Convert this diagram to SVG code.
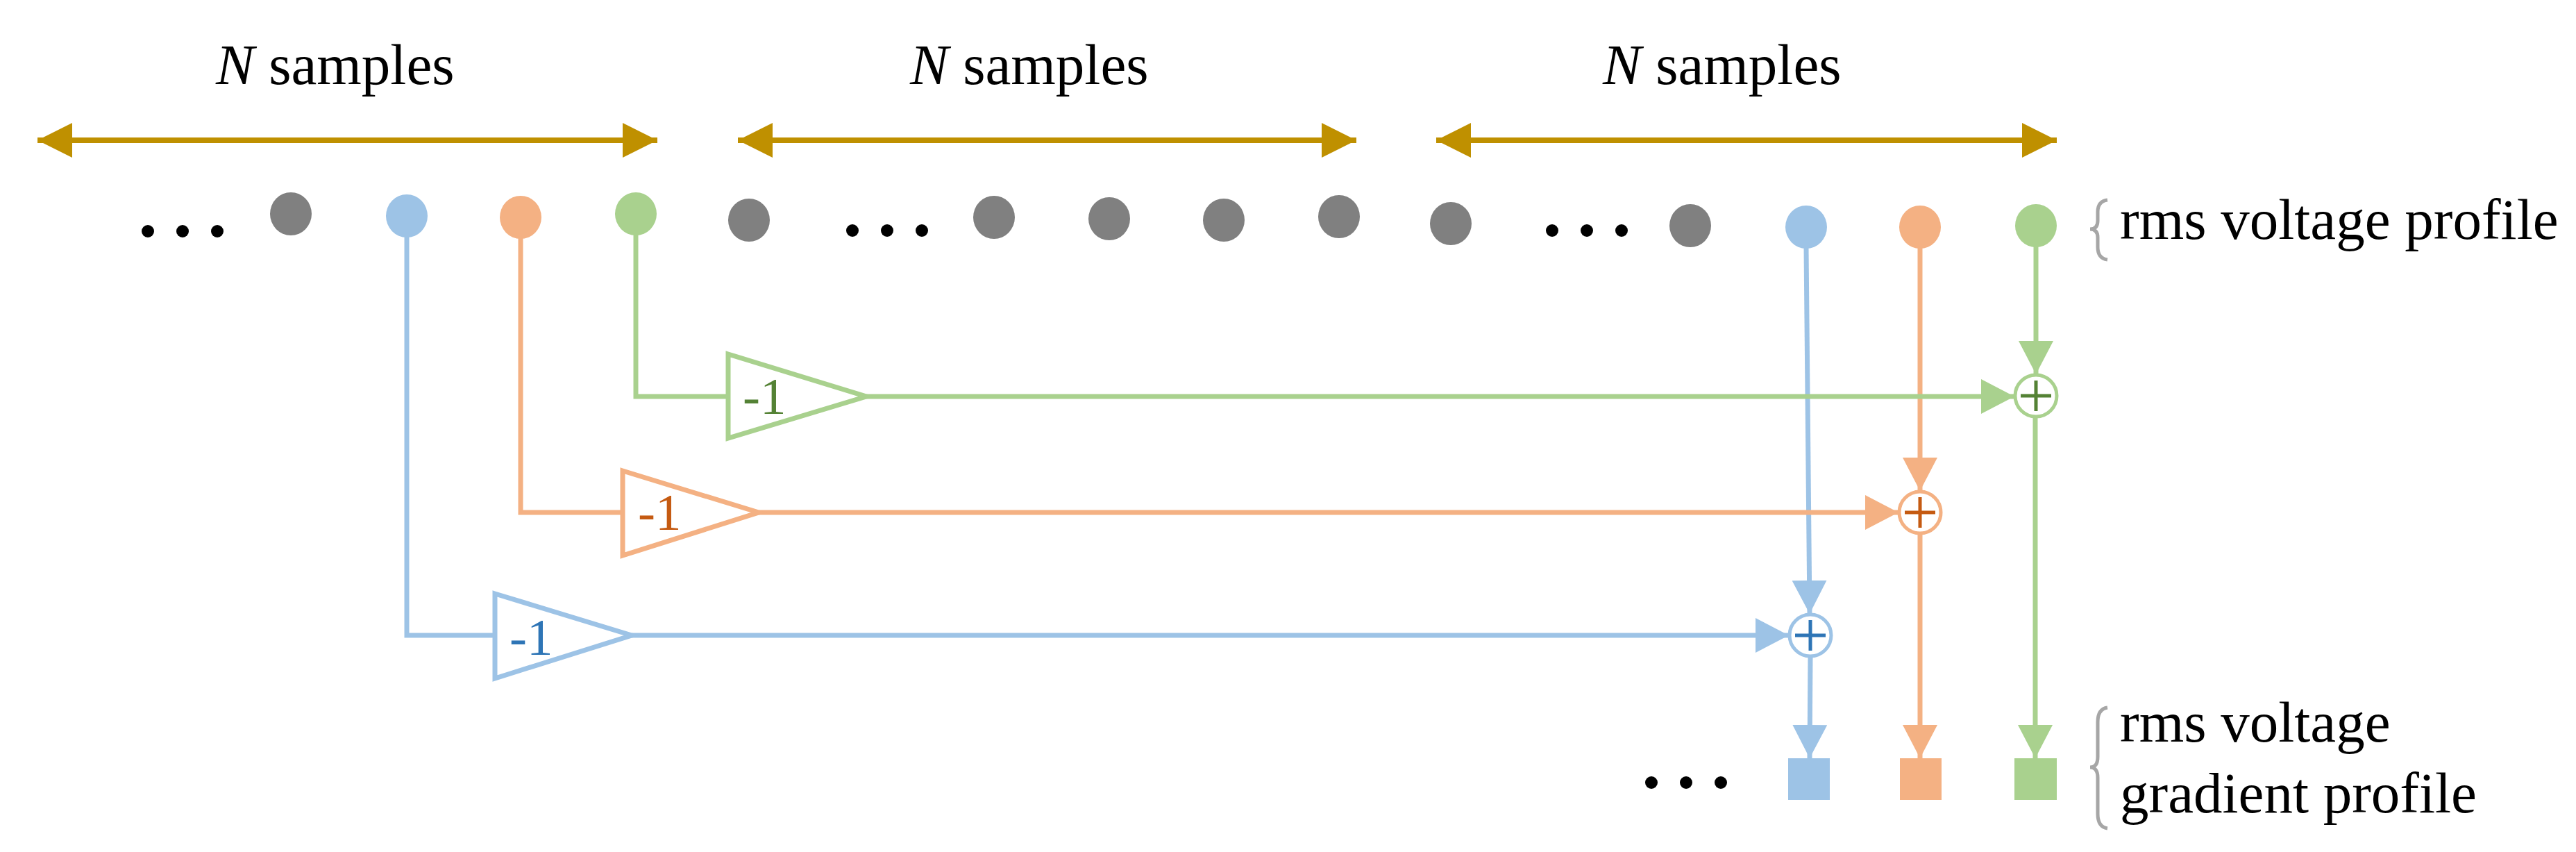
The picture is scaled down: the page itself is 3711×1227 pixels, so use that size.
<svg xmlns="http://www.w3.org/2000/svg" width="3711" height="1227" viewBox="0 0 3711 1227">
<style>
.t{font-family:"Liberation Serif","Times New Roman",serif;font-size:83px;fill:#000}
.g{font-family:"Liberation Serif","Times New Roman",serif;font-size:75px}
.gold{stroke:#BF9000;stroke-width:8;fill:none}
.bl{stroke:#9DC3E6;stroke-width:7;fill:none}
.or{stroke:#F4B183;stroke-width:7;fill:none}
.gr{stroke:#A9D18E;stroke-width:7;fill:none}
.br{stroke:#A6A6A6;stroke-width:5;fill:none}
</style>
<defs>
<marker id="ag" viewBox="0 0 50 50" refX="50" refY="25" markerWidth="50" markerHeight="50" markerUnits="userSpaceOnUse" orient="auto-start-reverse"><path d="M0,0L50,25L0,50z" fill="#BF9000"/></marker>
<marker id="ab" viewBox="0 0 48 50" refX="48" refY="25" markerWidth="48" markerHeight="50" markerUnits="userSpaceOnUse" orient="auto"><path d="M0,0L48,25L0,50z" fill="#9DC3E6"/></marker>
<marker id="ao" viewBox="0 0 48 50" refX="48" refY="25" markerWidth="48" markerHeight="50" markerUnits="userSpaceOnUse" orient="auto"><path d="M0,0L48,25L0,50z" fill="#F4B183"/></marker>
<marker id="agr" viewBox="0 0 48 50" refX="48" refY="25" markerWidth="48" markerHeight="50" markerUnits="userSpaceOnUse" orient="auto"><path d="M0,0L48,25L0,50z" fill="#A9D18E"/></marker>
</defs>
<rect width="3711" height="1227" fill="#fff"/>
<g id="labels">
<text class="t" x="311" y="121"><tspan font-style="italic">N</tspan> samples</text>
<text class="t" x="1311" y="121"><tspan font-style="italic">N</tspan> samples</text>
<text class="t" x="2309" y="121"><tspan font-style="italic">N</tspan> samples</text>
<text class="t" x="3054" y="344">rms voltage profile</text>
<text class="t" x="3054" y="1068">rms voltage</text>
<text class="t" x="3054" y="1170">gradient profile</text>
<path class="br" d="M3036,288 Q3022,290 3022,305 L3022,318 Q3022,330 3011,330 Q3022,330 3022,342 L3022,356 Q3022,372 3036,374"/>
<path class="br" d="M3036,1019 Q3022,1021 3022,1040 L3022,1090 Q3022,1105 3011,1105 Q3022,1105 3022,1120 L3022,1172 Q3022,1191 3036,1193"/>
</g>
<g id="spans">
<line class="gold" x1="54" y1="202" x2="947" y2="202" marker-start="url(#ag)" marker-end="url(#ag)"/>
<line class="gold" x1="1063" y1="202" x2="1954" y2="202" marker-start="url(#ag)" marker-end="url(#ag)"/>
<line class="gold" x1="2069" y1="202" x2="2963" y2="202" marker-start="url(#ag)" marker-end="url(#ag)"/>
</g>
<g id="samples">
<g fill="#000">
<circle cx="213" cy="333" r="9"/><circle cx="263" cy="333" r="9"/><circle cx="313" cy="333" r="9"/>
<circle cx="1228" cy="332" r="9"/><circle cx="1278" cy="332" r="9"/><circle cx="1328" cy="332" r="9"/>
<circle cx="2236" cy="332" r="9"/><circle cx="2286" cy="332" r="9"/><circle cx="2336" cy="332" r="9"/>
<circle cx="2379" cy="1127" r="9"/><circle cx="2429" cy="1127" r="9"/><circle cx="2479" cy="1127" r="9"/>
</g>
<g fill="#808080">
<ellipse cx="419" cy="308" rx="30" ry="31"/>
<ellipse cx="1079" cy="317" rx="30" ry="31"/>
<ellipse cx="1432" cy="313" rx="30" ry="31"/>
<ellipse cx="1598" cy="315" rx="30" ry="31"/>
<ellipse cx="1763" cy="317" rx="30" ry="31"/>
<ellipse cx="1929" cy="312" rx="30" ry="31"/>
<ellipse cx="2090" cy="322" rx="30" ry="31"/>
<ellipse cx="2435" cy="325" rx="30" ry="31"/>
</g>
<ellipse cx="586" cy="311" rx="30" ry="31" fill="#9DC3E6"/>
<ellipse cx="750" cy="313" rx="30" ry="31" fill="#F4B183"/>
<ellipse cx="916" cy="308" rx="30" ry="31" fill="#A9D18E"/>
<ellipse cx="2602" cy="327" rx="30" ry="31" fill="#9DC3E6"/>
<ellipse cx="2766" cy="327" rx="30" ry="31" fill="#F4B183"/>
<ellipse cx="2933" cy="325" rx="30" ry="31" fill="#A9D18E"/>
</g>
<g id="connectors">
<polyline class="bl" points="586,340 586,915 713,915"/>
<line class="bl" x1="910" y1="915" x2="2577" y2="915" marker-end="url(#ab)"/>
<line class="bl" x1="2602" y1="356" x2="2607" y2="884" marker-end="url(#ab)"/>
<line class="bl" x1="2608" y1="946" x2="2607" y2="1092" marker-end="url(#ab)"/>
<polyline class="or" points="750,342 750,738 897,738"/>
<line class="or" x1="1093" y1="738" x2="2735" y2="738" marker-end="url(#ao)"/>
<line class="or" x1="2766" y1="356" x2="2766" y2="707" marker-end="url(#ao)"/>
<line class="or" x1="2766" y1="769" x2="2766" y2="1092" marker-end="url(#ao)"/>
<polyline class="gr" points="916,338 916,571 1049,571"/>
<line class="gr" x1="1248" y1="571" x2="2902" y2="571" marker-end="url(#agr)"/>
<line class="gr" x1="2933" y1="355" x2="2933" y2="539" marker-end="url(#agr)"/>
<line class="gr" x1="2932" y1="601" x2="2932" y2="1092" marker-end="url(#agr)"/>
</g>
<g id="gain-blue"><path class="bl" d="M713,855L910,915L713,977z" fill="#fff" stroke-width="5"/><text class="g" x="734" y="943" fill="#2E75B6">-1</text></g>
<g id="gain-orange"><path class="or" d="M897,678L1093,738L897,800z" fill="#fff" stroke-width="5"/><text class="g" x="919" y="763" fill="#C55A11">-1</text></g>
<g id="gain-green"><path class="gr" d="M1049,510L1248,571L1049,631z" fill="#fff" stroke-width="5"/><text class="g" x="1070" y="596" fill="#548235">-1</text></g>
<g id="sum-blue"><circle cx="2608" cy="915" r="30" fill="#fff" stroke="#9DC3E6" stroke-width="5"/><path d="M2586,915H2630M2608,893V937" stroke="#2E75B6" stroke-width="5"/></g>
<g id="sum-orange"><circle cx="2766" cy="738" r="30" fill="#fff" stroke="#F4B183" stroke-width="5"/><path d="M2744,738H2788M2766,716V760" stroke="#C55A11" stroke-width="5"/></g>
<g id="sum-green"><circle cx="2933" cy="570" r="30" fill="#fff" stroke="#A9D18E" stroke-width="5"/><path d="M2911,570H2955M2933,548V592" stroke="#548235" stroke-width="5"/></g>
<g id="outputs">
<rect x="2576" y="1092" width="60" height="60" fill="#9DC3E6"/>
<rect x="2737" y="1092" width="60" height="60" fill="#F4B183"/>
<rect x="2902" y="1092" width="61" height="60" fill="#A9D18E"/>
</g>
</svg>
